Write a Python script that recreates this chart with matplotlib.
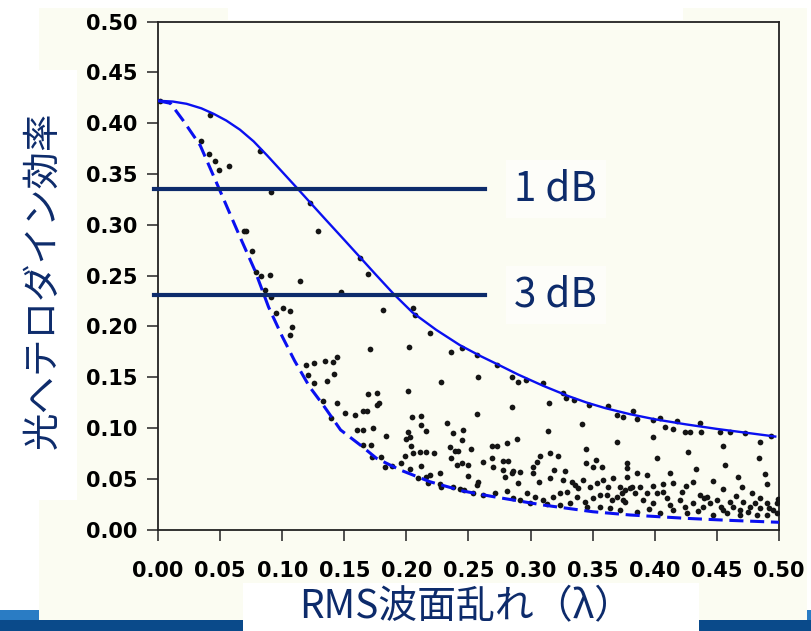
import matplotlib.pyplot as plt
from matplotlib.patches import Rectangle
import numpy as np

plt.rcParams['font.family'] = ['Noto Sans CJK JP', 'DejaVu Sans']

W, H = 812, 631
NAVY = '#0d2b6b'
BLUE = '#0a10f0'
CREAM = '#fbfcf2'

# solid envelope (upper bound)
upper_x = [0.0, 0.012, 0.023, 0.035, 0.045, 0.055, 0.066, 0.077, 0.088, 0.10, 0.112,
           0.122, 0.135, 0.15, 0.163, 0.176, 0.19, 0.205, 0.224, 0.243, 0.26, 0.273,
           0.29, 0.31, 0.33, 0.345, 0.36, 0.38, 0.40, 0.425, 0.45, 0.475, 0.497]
upper_y = [0.422, 0.4212, 0.419, 0.4145, 0.409, 0.4025, 0.3935, 0.382, 0.368, 0.352, 0.336,
           0.3225, 0.305, 0.285, 0.2675, 0.25, 0.2315, 0.2135, 0.1965, 0.1815, 0.1705, 0.1628,
           0.1525, 0.1415, 0.1315, 0.125, 0.1195, 0.1135, 0.1085, 0.1035, 0.099, 0.095, 0.0915]

# dashed envelope (lower bound)
lower_x = [0.0, 0.01, 0.02, 0.034, 0.049, 0.066, 0.078, 0.089, 0.1, 0.11, 0.122, 0.133,
           0.147, 0.163, 0.176, 0.195, 0.219, 0.245, 0.27, 0.31, 0.35, 0.38, 0.425, 0.46, 0.5]
lower_y = [0.422, 0.4195, 0.403, 0.378, 0.336, 0.288, 0.255, 0.219, 0.19, 0.166, 0.1405, 0.1225,
           0.098, 0.083, 0.070, 0.0586, 0.047, 0.038, 0.0323, 0.0241, 0.0175, 0.0143, 0.011, 0.009, 0.0071]

levels = [0.335, 0.231]
level_labels = ['1 dB', '3 dB']

# measured points (rms, efficiency)
pts_left = [(0.002, 0.422), (0.042, 0.408), (0.035, 0.382), (0.041, 0.370), (0.046, 0.363),
            (0.049, 0.354), (0.057, 0.358), (0.082, 0.3725), (0.091, 0.332), (0.122, 0.321),
            (0.069, 0.294), (0.071, 0.294), (0.129, 0.294), (0.076, 0.274), (0.163, 0.267),
            (0.079, 0.253), (0.083, 0.2495), (0.090, 0.2505), (0.169, 0.251), (0.114, 0.245),
            (0.086, 0.2355), (0.147, 0.234), (0.091, 0.229), (0.181, 0.216), (0.205, 0.218),
            (0.207, 0.211), (0.101, 0.2177), (0.106, 0.2153), (0.095, 0.2128), (0.108, 0.1996),
            (0.106, 0.1914), (0.119, 0.162), (0.121, 0.152)]

pts_mid = [(0.219, 0.1937), (0.171, 0.1777), (0.202, 0.180), (0.236, 0.1744), (0.2445, 0.1783),
           (0.126, 0.164), (0.1345, 0.166), (0.1405, 0.165), (0.144, 0.170),
           (0.1256, 0.1445), (0.136, 0.1465), (0.142, 0.153),
           (0.228, 0.1455), (0.201, 0.136), (0.169, 0.1334), (0.176, 0.1347),
           (0.133, 0.1265), (0.144, 0.125), (0.178, 0.1248), (0.176, 0.1225),
           (0.1506, 0.115), (0.1586, 0.1124), (0.165, 0.1166), (0.1686, 0.1166),
           (0.139, 0.1094), (0.2047, 0.1104), (0.2118, 0.112), (0.2324, 0.1045),
           (0.173, 0.100), (0.160, 0.098), (0.165, 0.098), (0.2114, 0.1025), (0.2155, 0.097),
           (0.1835, 0.092), (0.2015, 0.0963), (0.2029, 0.0913), (0.1994, 0.089),
           (0.2378, 0.0947), (0.2453, 0.098), (0.2445, 0.088),
           (0.1654, 0.0832), (0.1715, 0.0832), (0.204, 0.082),
           (0.235, 0.0815), (0.2391, 0.0776), (0.2418, 0.0776),
           (0.2056, 0.075), (0.211, 0.0766), (0.2155, 0.0766), (0.2225, 0.075),
           (0.1988, 0.0723), (0.172, 0.071), (0.1793, 0.0717), (0.2359, 0.070),
           (0.196, 0.0658), (0.1828, 0.0618), (0.1882, 0.0628), (0.2118, 0.0628),
           (0.2405, 0.0635), (0.2445, 0.0652), (0.2494, 0.0635),
           (0.2029, 0.0595), (0.227, 0.0553), (0.209, 0.051), (0.216, 0.052), (0.219, 0.0536),
           (0.2498, 0.0527), (0.2177, 0.0455), (0.227, 0.0448), (0.228, 0.0415),
           (0.2378, 0.042), (0.2466, 0.0389)]

pts_center = [(0.2566, 0.1717), (0.2727, 0.162), (0.258, 0.150), (0.2848, 0.1504), (0.290, 0.1455),
              (0.2963, 0.147), (0.3097, 0.144), (0.3264, 0.134), (0.3285, 0.129), (0.335, 0.1275),
              (0.315, 0.1248), (0.2848, 0.121), (0.347, 0.1225), (0.3626, 0.1216), (0.3693, 0.1127),
              (0.3741, 0.1104), (0.2566, 0.1137), (0.3417, 0.1038), (0.3143, 0.0972),
              (0.2887, 0.089), (0.3698, 0.0858), (0.2807, 0.0848), (0.2686, 0.0825), (0.2727, 0.0825),
              (0.252, 0.079), (0.345, 0.079), (0.2686, 0.0707), (0.278, 0.0677), (0.282, 0.0677),
              (0.3076, 0.0727), (0.3156, 0.075), (0.3218, 0.0723), (0.3048, 0.0667),
              (0.3527, 0.0684), (0.3446, 0.0652), (0.3505, 0.0618), (0.3572, 0.0618),
              (0.3773, 0.0652), (0.3773, 0.0602), (0.2614, 0.0661),
              (0.27, 0.0612), (0.278, 0.0586), (0.286, 0.0576), (0.2915, 0.0563),
              (0.3017, 0.0618), (0.302, 0.0553), (0.307, 0.047), (0.3156, 0.0504), (0.319, 0.0586),
              (0.3277, 0.0576), (0.2579, 0.047), (0.257, 0.0438),
              (0.2794, 0.052), (0.2848, 0.0553), (0.29, 0.0455),
              (0.3264, 0.0487), (0.333, 0.047), (0.3357, 0.0438), (0.3384, 0.0405),
              (0.3424, 0.0487), (0.3478, 0.0421), (0.3532, 0.0455), (0.3585, 0.0487),
              (0.3626, 0.0421), (0.3666, 0.0504), (0.372, 0.0421), (0.376, 0.0389), (0.38, 0.0405),
              (0.2432, 0.0396), (0.2539, 0.0356), (0.2619, 0.034), (0.2713, 0.0356), (0.2807, 0.0379),
              (0.2861, 0.0307), (0.2915, 0.029), (0.2968, 0.0362), (0.3035, 0.0323), (0.3102, 0.029),
              (0.3183, 0.0323), (0.3237, 0.0356), (0.329, 0.0372), (0.3371, 0.0323), (0.3438, 0.0274),
              (0.3505, 0.0307), (0.3559, 0.034), (0.3612, 0.034), (0.3653, 0.029), (0.3693, 0.0323),
              (0.3746, 0.029), (0.2995, 0.0258), (0.313, 0.0251), (0.3237, 0.0241), (0.3317, 0.0258),
              (0.3452, 0.0224), (0.3559, 0.0224), (0.3639, 0.0208), (0.372, 0.0192)]

pts_right = [(0.3827, 0.1166), (0.3854, 0.1085), (0.3988, 0.1078), (0.4042, 0.1094), (0.4082, 0.1012),
             (0.4149, 0.0986), (0.4176, 0.1071), (0.4243, 0.0963), (0.4283, 0.0963), (0.4369, 0.0963),
             (0.4364, 0.1045), (0.4525, 0.0963), (0.4605, 0.0963), (0.4726, 0.0953), (0.4933, 0.092),
             (0.3982, 0.0913), (0.4847, 0.0858), (0.4552, 0.0822), (0.427, 0.076), (0.4015, 0.070),
             (0.4842, 0.070), (0.4565, 0.0635), (0.4332, 0.0592),
             (0.3854, 0.0553), (0.3935, 0.0536), (0.4122, 0.0559), (0.3779, 0.052),
             (0.4672, 0.052), (0.4887, 0.0543), (0.4465, 0.048), (0.4305, 0.047), (0.4149, 0.0455),
             (0.4069, 0.0448), (0.3988, 0.0428), (0.3814, 0.0415), (0.3881, 0.0415), (0.3733, 0.0356),
             (0.384, 0.0356), (0.3935, 0.0356), (0.4015, 0.0356), (0.4069, 0.0372),
             (0.4216, 0.0372), (0.4364, 0.034), (0.4418, 0.0323), (0.4498, 0.029), (0.4605, 0.0274),
             (0.4713, 0.0274), (0.4807, 0.0258), (0.4901, 0.0258), (0.4981, 0.0258),
             (0.376, 0.0274), (0.3907, 0.029), (0.3988, 0.0258), (0.4095, 0.0307), (0.4122, 0.0241),
             (0.4203, 0.029), (0.4243, 0.0224), (0.431, 0.0258), (0.439, 0.0224), (0.4444, 0.0258),
             (0.4537, 0.0224), (0.4631, 0.0224), (0.4686, 0.0192), (0.4767, 0.0224), (0.4847, 0.0208),
             (0.4954, 0.0192), (0.3854, 0.0175), (0.4042, 0.0166), (0.4256, 0.0159), (0.4471, 0.0143),
             (0.4579, 0.0159), (0.4686, 0.0143), (0.482, 0.0143), (0.4901, 0.0143), (0.4981, 0.0159),
             (0.395, 0.020), (0.415, 0.019), (0.435, 0.018), (0.455, 0.019), (0.475, 0.017),
             (0.492, 0.021), (0.44, 0.031), (0.465, 0.033), (0.485, 0.031), (0.425, 0.043),
             (0.455, 0.040), (0.478, 0.036), (0.49, 0.045), (0.47, 0.042), (0.499, 0.030)]

ticks = np.arange(0, 0.501, 0.05)

fig = plt.figure(figsize=(W / 100, H / 100), dpi=100)


def box(x0, y0, x1, y1, color):
    # rectangle given in image pixels (top-left origin)
    fig.add_artist(Rectangle((x0 / W, 1 - y1 / H), (x1 - x0) / W, (y1 - y0) / H,
                             transform=fig.transFigure, facecolor=color,
                             edgecolor='none', zorder=-5))


# slide background pieces
box(39, 8, 807, 620, CREAM)
box(228, 0, 683, 20, 'white')
box(0, 70, 77, 500, 'white')
box(243, 583, 699, 631, 'white')
box(0, 610, 39, 620, '#2a7cc4')
box(807, 610, 812, 620, '#2a7cc4')
box(0, 620, 243, 631, '#0a4a8a')
box(699, 620, 812, 631, '#0a4a8a')

ax = fig.add_axes([158 / W, 1 - 529.5 / H, 621 / W, 508 / H])
ax.set_facecolor(CREAM)

pts = np.array(pts_left + pts_mid + pts_center + pts_right)
ax.scatter(pts[:, 0], pts[:, 1], s=17, c='#151515', linewidths=0, zorder=3)

ax.plot(upper_x, upper_y, color=BLUE, lw=1.7, zorder=4)
ax.plot(lower_x, lower_y, color=BLUE, lw=2.2, dashes=(4.6, 2.2), zorder=4)

for lev, lab in zip(levels, level_labels):
    ax.plot([-0.003, 0.263], [lev, lev], color=NAVY, lw=3.0, zorder=5, clip_on=False)
    ax.text(0.287, lev, lab, fontsize=29, color=NAVY, va='center', ha='left', zorder=5,
            bbox=dict(facecolor='white', edgecolor='none', pad=6, alpha=0.6))

ax.set_xlim(0, 0.5)
ax.set_ylim(0, 0.5)
ax.set_xticks(ticks)
ax.set_yticks(ticks)
ax.set_xticklabels(['%.2f' % t for t in ticks], family='DejaVu Sans', fontweight='bold', fontsize=15)
ax.set_yticklabels(['%.2f' % t for t in ticks], family='DejaVu Sans', fontweight='bold', fontsize=15)
ax.tick_params(axis='x', direction='out', length=8, width=1.2, color='#333333', pad=15)
ax.tick_params(axis='y', direction='out', length=8, width=1.2, color='#333333', pad=7)
for s in ax.spines.values():
    s.set_color('#222222')
    s.set_linewidth(1.3)

fig.text(466 / W, 1 - 607 / H, 'RMS波面乱れ（λ）', fontsize=28, color=NAVY,
         ha='center', va='center')
fig.text(43 / W, 1 - 280 / H, '光ヘテロダイン効率', fontsize=27, color=NAVY,
         ha='center', va='center', rotation=90)

fig.savefig('out.png', dpi=100)
